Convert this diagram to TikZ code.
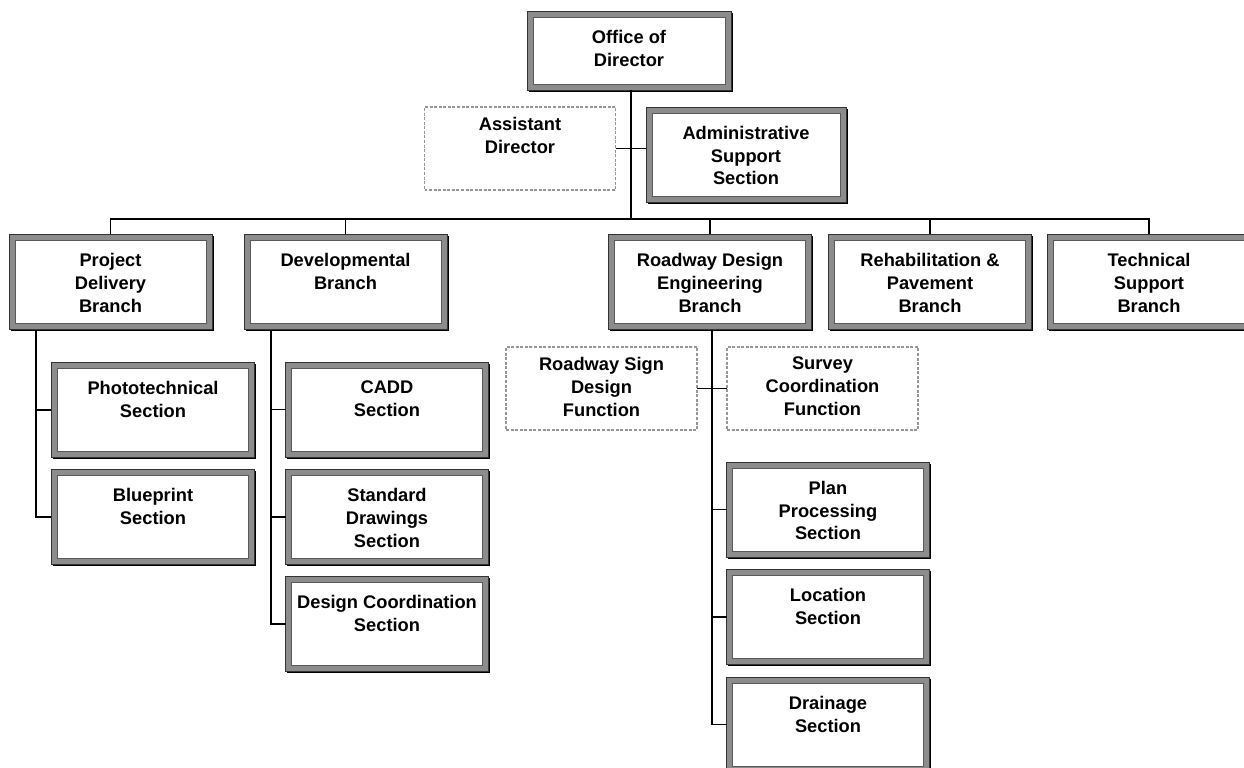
\documentclass[tikz,border=0pt]{standalone}
\usepackage{fontspec}
\setmainfont{Liberation Sans}
\usepackage{tikz}
\usetikzlibrary{positioning, shadows}
\definecolor{band}{RGB}{140, 140, 140}
\definecolor{dashgray}{RGB}{150, 150, 150}
\tikzset{
    unitbox/.style={rectangle, outer sep=0pt, inner sep=0pt, fill=band, draw=black!80, line width=0.5pt,
        drop shadow={fill=black, opacity=1, shadow xshift=1.1pt, shadow yshift=-1.1pt},
        path picture={\draw[black!65, fill=white, line width=0.4pt]
            ([shift={(3.4pt,3.4pt)}]path picture bounding box.south west) rectangle
            ([shift={(-3.4pt,-3.4pt)}]path picture bounding box.north east);}},
    secbox/.style={unitbox, minimum width=40.6mm, minimum height=19mm},
    funcbox/.style={rectangle, outer sep=0pt, inner sep=0pt, draw=dashgray, line width=1pt,
        dash pattern=on 1.7pt off 0.9pt, fill=white, minimum width=38.2mm, minimum height=16.6mm},
    txtbase/.style={anchor=north, inner sep=0pt, align=center,
        font=\bfseries\fontsize{10.4}{13}\selectfont},
    boxtxt/.style={txtbase, yshift=-10.6pt},
    functxt/.style={txtbase, yshift=-5.6pt},
    conn/.style={-, black, line width=0.65pt},
}
\begin{document}
\begin{tikzpicture}[x=0.2mm, y=-0.2mm]
    \clip (0,0) rectangle (1244,768);
    \fill[white] (0,0) rectangle (1244,768);

    % top
    \node[unitbox, minimum width=40.8mm, minimum height=15.8mm, label={[boxtxt]north:Office of\\Director}] (dir) at (629,50.5) { };
    \node[funcbox, label={[functxt]north:Assistant\\Director}] (asst) at (520,148.5) { };
    \node[secbox, minimum width=40mm, label={[boxtxt]north:Administrative\\Support\\Section}] (adm) at (746,154.5) { };

    % branches
    \node[secbox, label={[boxtxt]north:Project\\Delivery\\Branch}] (pdb) at (110.5,282) { };
    \node[secbox, label={[boxtxt]north:Developmental\\Branch}] (dev) at (345.5,282) { };
    \node[secbox, label={[boxtxt]north:Roadway Design\\Engineering\\Branch}] (rde) at (710,282) { };
    \node[secbox, label={[boxtxt]north:Rehabilitation \&\\Pavement\\Branch}] (reh) at (930,282) { };
    \node[secbox, label={[boxtxt]north:Technical\\Support\\Branch}] (tsb) at (1149,282) { };

    % sections
    \node[secbox, label={[boxtxt]north:Phototechnical\\Section}] (phot) at (153,410) { };
    \node[secbox, label={[boxtxt]north:Blueprint\\Section}] (blue) at (153,517) { };
    \node[secbox, label={[boxtxt]north:CADD\\Section}] (cadd) at (387,409.5) { };
    \node[secbox, label={[boxtxt]north:Standard\\Drawings\\Section}] (std) at (387,517) { };
    \node[secbox, label={[boxtxt]north:Design Coordination\\Section}] (dco) at (387,624) { };
    \node[funcbox, label={[functxt]north:Roadway Sign\\Design\\Function}] (rsd) at (601.5,388.5) { };
    \node[funcbox, label={[functxt]north:Survey\\Coordination\\Function}] (scf) at (822.5,388.5) { };
    \node[secbox, label={[boxtxt]north:Plan\\Processing\\Section}] (plan) at (828,509.5) { };
    \node[secbox, label={[boxtxt]north:Location\\Section}] (loc) at (828,617) { };
    \node[secbox, label={[boxtxt]north:Drainage\\Section}] (drn) at (828,724.5) { };

    \coordinate (hub) at (631,219);
    \coordinate (dirx) at (631,90);
    \coordinate (pdbx) at (36,330);
    \coordinate (devx) at (271,330);
    \coordinate (rdex) at (712,330);

    \draw[conn] (dirx) -- (hub);
    \draw[conn] (asst.east) -- (asst.east -| adm.west);
    \draw[conn] (pdb.north) |- (tsb.north |- hub) -- (tsb.north);
    \draw[conn] (dev.north) -- (dev.north |- hub);
    \draw[conn] (rde.north) -- (rde.north |- hub);
    \draw[conn] (reh.north) -- (reh.north |- hub);

    \draw[conn] (pdbx) |- (blue.west);
    \draw[conn] (phot.west) -- (phot.west -| pdbx);
    \draw[conn] (devx) |- (dco.west);
    \draw[conn] (cadd.west) -- (cadd.west -| devx);
    \draw[conn] (std.west) -- (std.west -| devx);
    \draw[conn] (rdex) |- (drn.west);
    \draw[conn] (plan.west) -- (plan.west -| rdex);
    \draw[conn] (loc.west) -- (loc.west -| rdex);
    \draw[conn] (rsd.east) -- (scf.west);
\end{tikzpicture}
\end{document}
